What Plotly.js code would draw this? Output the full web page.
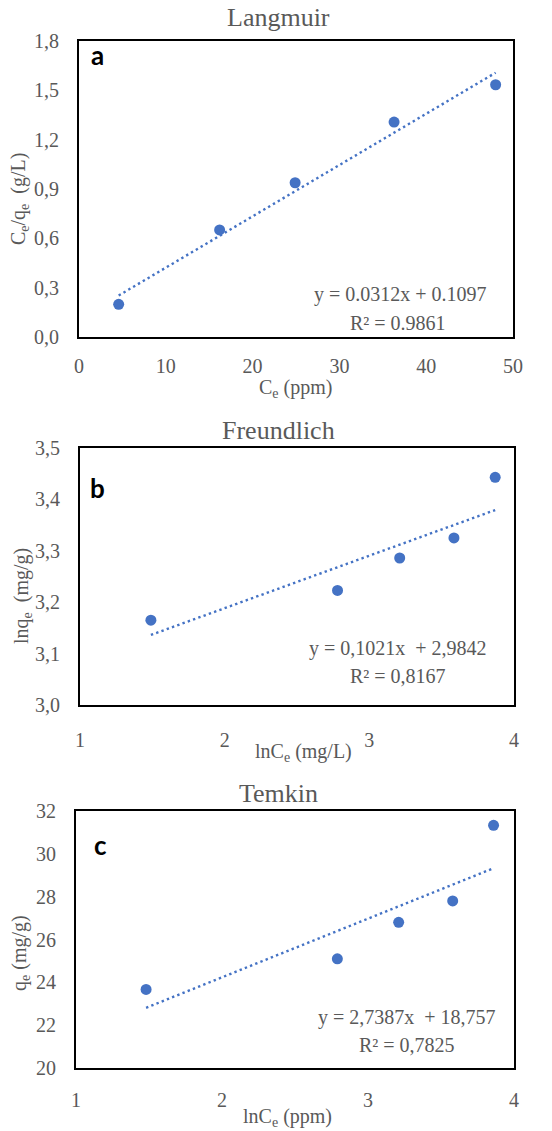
<!DOCTYPE html>
<html>
<head>
<meta charset="utf-8">
<script src="https://cdn.plot.ly/plotly-3.0.1.min.js"></script>
<style>html,body{margin:0;padding:0;background:#fff;}#chart{width:552px;height:1131px;}</style>
</head>
<body>
<div id="chart"></div>
<script>
// ---- Data ----
const panelTitles = ["Langmuir", "Freundlich", "Temkin"];
const panelLetters = ["a", "b", "c"];

// (a) Langmuir
const langCe = [4.57, 16.2, 24.9, 36.3, 48.0];
const langCeQe = [0.199, 0.651, 0.938, 1.307, 1.534];
const langSlope = 0.0312, langIntercept = 0.1097;
const langEq = ["y = 0.0312x + 0.1097", "R² = 0.9861"];

// (b) Freundlich
const freuLnCe = [1.49, 2.78, 3.21, 3.585, 3.87];
const freuLnQe = [3.165, 3.223, 3.286, 3.325, 3.443];
const freuSlope = 0.1021, freuIntercept = 2.9842;
const freuEq = ["y = 0,1021x  + 2,9842", "R² = 0,8167"];

// (c) Temkin
const temkLnCe = [1.48, 2.79, 3.21, 3.58, 3.86];
const temkQe = [23.67, 25.1, 26.8, 27.8, 31.33];
const temkSlope = 2.7387, temkIntercept = 18.757;
const temkEq = ["y = 2,7387x  + 18,757", "R² = 0,7825"];

const xTitles = ["C<sub>e</sub> (ppm)", "lnC<sub>e</sub> (mg/L)", "lnC<sub>e</sub> (ppm)"];
const yTitles = ["C<sub>e</sub>/q<sub>e</sub>  (g/L)", "lnq<sub>e</sub>  (mg/g)", "q<sub>e</sub> (mg/g)"];

// ---- Styling ----
const W = 552, H = 1131;
const blue = "#4472C4";
const gray = "#595959";
const serif = "Liberation Serif";
const px = v => v / W;
const py = v => 1 - v / H;

function trend(xs, m, b) {
  const x0 = Math.min(...xs), x1 = Math.max(...xs);
  return { x: [x0, x1], y: [m * x0 + b, m * x1 + b] };
}

const sets = [
  { x: langCe, y: langCeQe, m: langSlope, b: langIntercept },
  { x: freuLnCe, y: freuLnQe, m: freuSlope, b: freuIntercept },
  { x: temkLnCe, y: temkQe, m: temkSlope, b: temkIntercept }
];

const traces = [];
sets.forEach((s, i) => {
  const ax = i === 0 ? "" : String(i + 1);
  const t = trend(s.x, s.m, s.b);
  traces.push({
    x: t.x, y: t.y, mode: "lines", type: "scatter",
    line: { color: blue, width: 2.4, dash: "2.4px,3.2px" },
    xaxis: "x" + ax, yaxis: "y" + ax, hoverinfo: "skip", showlegend: false
  });
  traces.push({
    x: s.x, y: s.y, mode: "markers", type: "scatter",
    marker: { color: blue, size: 11 },
    xaxis: "x" + ax, yaxis: "y" + ax, showlegend: false
  });
});

// Plot boxes in pixels: [left, right, top, bottom]
const boxes = [
  [79, 513, 41, 337],
  [80, 514, 448, 705],
  [76, 514, 811, 1068]
];

const layout = {
  width: W, height: H,
  margin: { l: 0, r: 0, t: 0, b: 0 },
  paper_bgcolor: "#fff", plot_bgcolor: "#fff",
  font: { family: serif, size: 20, color: gray },
  separators: ",.",
  showlegend: false,
  annotations: []
};

const xRanges = [[0, 50], [1, 4], [1, 4]];
const xDticks = [10, 1, 1];
const yRanges = [[0, 1.8], [3, 3.5], [20, 32]];
const yDticks = [0.3, 0.1, 2];
const yFormats = [".1f", ".1f", "d"];
const xTickGap = [10, 16, 13];

boxes.forEach((bx, i) => {
  const ax = i === 0 ? "" : String(i + 1);
  layout["xaxis" + ax] = {
    domain: [px(bx[0]), px(bx[1])],
    anchor: "y" + ax,
    range: xRanges[i], dtick: xDticks[i], tick0: xRanges[i][0],
    showline: true, mirror: true, linecolor: "#000", linewidth: 2,
    showgrid: false, zeroline: false,
    ticks: "outside", ticklen: xTickGap[i], tickcolor: "rgba(0,0,0,0)",
    tickfont: { family: serif, size: 20, color: gray }
  };
  layout["yaxis" + ax] = {
    domain: [py(bx[3]), py(bx[2])],
    anchor: "x" + ax,
    range: yRanges[i], dtick: yDticks[i], tick0: yRanges[i][0],
    tickformat: yFormats[i],
    showline: true, mirror: true, linecolor: "#000", linewidth: 2,
    showgrid: false, zeroline: false,
    ticks: "outside", ticklen: 14, tickcolor: "rgba(0,0,0,0)",
    tickfont: { family: serif, size: 20, color: gray }
  };
});

// Panel titles
const titlePos = [[278, 17], [278, 430], [278, 793]];
titlePos.forEach((p, i) => {
  layout.annotations.push({
    text: panelTitles[i], xref: "paper", yref: "paper",
    x: px(p[0]), y: py(p[1]), xanchor: "center", yanchor: "middle",
    showarrow: false, font: { family: serif, size: 26, color: gray }
  });
});

// Panel letters
const letterPos = [[97, 55], [97, 488], [100, 845]];
letterPos.forEach((p, i) => {
  layout.annotations.push({
    text: "<b>" + panelLetters[i] + "</b>", xref: "paper", yref: "paper",
    x: px(p[0]), y: py(p[1]), xanchor: "center", yanchor: "middle",
    showarrow: false, font: { family: "Lato", size: 26, color: "#000" }
  });
});

// Equations
const eqs = [langEq, freuEq, temkEq];
const eqPos = [[[400, 295], [398, 323]], [[398, 648], [398, 676]], [[407, 1017], [407, 1045]]];
eqs.forEach((e, i) => {
  e.forEach((line, j) => {
    layout.annotations.push({
      text: line, xref: "paper", yref: "paper",
      x: px(eqPos[i][j][0]), y: py(eqPos[i][j][1]), xanchor: "center", yanchor: "middle",
      showarrow: false, font: { family: serif, size: 20, color: gray }
    });
  });
});

// Axis titles
const xTitlePos = [[295, 388], [303, 753], [287, 1117]];
const yTitlePos = [[20, 199], [22, 596], [20, 953]];
xTitles.forEach((t, i) => {
  layout.annotations.push({
    text: t, xref: "paper", yref: "paper",
    x: px(xTitlePos[i][0]), y: py(xTitlePos[i][1]), xanchor: "center", yanchor: "middle",
    showarrow: false, font: { family: serif, size: 20, color: gray }
  });
});
yTitles.forEach((t, i) => {
  layout.annotations.push({
    text: t, xref: "paper", yref: "paper", textangle: -90,
    x: px(yTitlePos[i][0]), y: py(yTitlePos[i][1]), xanchor: "center", yanchor: "middle",
    showarrow: false, font: { family: serif, size: 20, color: gray }
  });
});

Plotly.newPlot("chart", traces, layout, { displayModeBar: false });
</script>
</body>
</html>
